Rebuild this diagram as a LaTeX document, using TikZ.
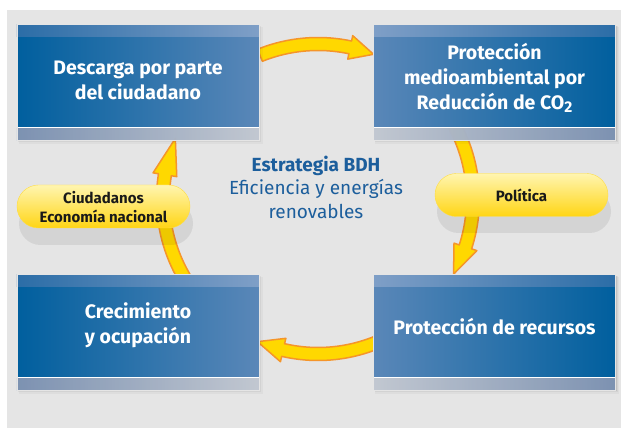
\documentclass[tikz,border=0pt]{standalone}
\usepackage{fontspec}
\setmainfont{Fira Sans}
\usetikzlibrary{calc}
\definecolor{bgray}{HTML}{E5E5E5}
\definecolor{bdark}{HTML}{005F9E}
\definecolor{blight}{HTML}{5A87B8}
\definecolor{tbdark}{HTML}{2B6DA7}
\definecolor{tblight}{HTML}{7F9FC7}
\definecolor{bbdark}{HTML}{8EA7CC}
\definecolor{bblight}{HTML}{DFE6F1}
\definecolor{ayellow}{HTML}{FFD800}
\definecolor{aorange}{HTML}{F5952A}
\definecolor{ctext}{HTML}{1C5E9C}
\definecolor{pilltop}{HTML}{FFF5B0}
\definecolor{pillbot}{HTML}{FFD514}
\tikzset{
  panelbody/.style={rectangle, minimum width=242pt, minimum height=90pt, inner sep=0pt},
  bodyL/.style={left color=bdark, right color=blight},
  bodyR/.style={left color=blight, right color=bdark},
  topL/.style={left color=tbdark, right color=tblight},
  topR/.style={left color=tblight, right color=tbdark},
  botL/.style={left color=bbdark, right color=bblight, fill opacity=0.85},
  botR/.style={left color=bblight, right color=bbdark, fill opacity=0.85},
  boxtext/.style={text=white, font=\bfseries\fontsize{19.5}{25}\selectfont, align=center, inner sep=0pt},
  cyc/.style={fill=ayellow, draw=aorange, line width=1.5pt, line join=round},
  pill/.style={rectangle, rounded corners=21.5pt, minimum width=173pt, minimum height=43pt, inner sep=0pt, top color=pilltop, bottom color=pillbot, draw=pillbot!80!white, line width=0.4pt},
  pilltext/.style={text=black!90, font=\bfseries\fontsize{15}{19}\selectfont, align=center, inner sep=0pt},
  centertext/.style={text=ctext, font=\fontsize{19}{23.5}\selectfont, align=center, inner sep=0pt}
}
\newcommand\cycarrow[3]{%
  \filldraw[cyc] ($(cc)+(#1:161.5pt)$) arc[start angle=#1, end angle=#2, radius=161.5pt]
    -- ($(cc)+(#2:167pt)$) -- ($(cc)+(#3:155pt)$) -- ($(cc)+(#2:143pt)$)
    -- ($(cc)+(#2:148.5pt)$) arc[start angle=#2, end angle=#1, radius=148.5pt] -- cycle;}
\newcommand\panelbox[3]{%
  \foreach \s/\o in {1.2/0.08,2.4/0.05,3.6/0.03}{%
    \fill[black,opacity=\o] ($(#2)+(-121+\s*0.5,-58-\s)$) rectangle ($(#2)+(121+\s,57-\s*0.5)$);}
  \node[panelbody,body#3] (#1) at (#2) {};
  \fill[top#3] (#1.north west) rectangle ([yshift=12pt]#1.north east);
  \fill[white] (#1.south west) rectangle ([yshift=-1.2pt]#1.south east);
  \fill[bot#3] ([yshift=-1.2pt]#1.south west) rectangle ([yshift=-13pt]#1.south east);
  \draw[white!80!gray, line width=0.6pt] ([yshift=-13pt]#1.south west) rectangle ([yshift=12pt]#1.north east);
}
\begin{document}
\begin{tikzpicture}[x=1pt,y=1pt]
\useasboundingbox (0,0) rectangle (621,428);
\fill[white] (0,0) rectangle (621,428);
\fill[bgray] (7,0) rectangle (621,418);
\coordinate (cc) at (318,229);
% cycle arrows
\cycarrow{112}{78}{69}
\cycarrow{31}{-18}{-29}
\cycarrow{-67}{-103}{-113}
\cycarrow{213}{171}{157}
% boxes
\panelbox{tl}{138,346}{L}
\panelbox{tr}{494.5,346}{R}
\panelbox{bl}{138,96}{L}
\panelbox{br}{494.5,96}{R}
\node[boxtext] (tlt) at (138,347.5) {Descarga por parte\\del ciudadano};
\node[boxtext] (trt) at (494.5,350) {Protección\\medioambiental por\\Reducción de CO\raisebox{-0.3ex}{\fontsize{15.5}{15.5}\selectfont 2}};
\node[boxtext] (blt) at (138,102.5) {Crecimiento\\y ocupación};
\node[boxtext] (brt) at (494.5,101) {Protección de recursos};
% center text
\node[centertext] (ct) at (316,241) {\textbf{Estrategia BDH}\\Eficiencia y energías\\renovables};
% pills
\fill[black,opacity=0.07,rounded corners=21.5pt] (19,183) rectangle (193,226);
\fill[black,opacity=0.07,rounded corners=21.5pt] (437,195) rectangle (611,238);
\node[pill] (p1) at (103.5,221.5) {};
\node[pill] (p2) at (521.5,233) {};
\node[pilltext] (p1t) at (103.5,220.5) {Ciudadanos\\Economía nacional};
\node[pilltext] (p2t) at (521.5,233) {Política};
\end{tikzpicture}
\end{document}
